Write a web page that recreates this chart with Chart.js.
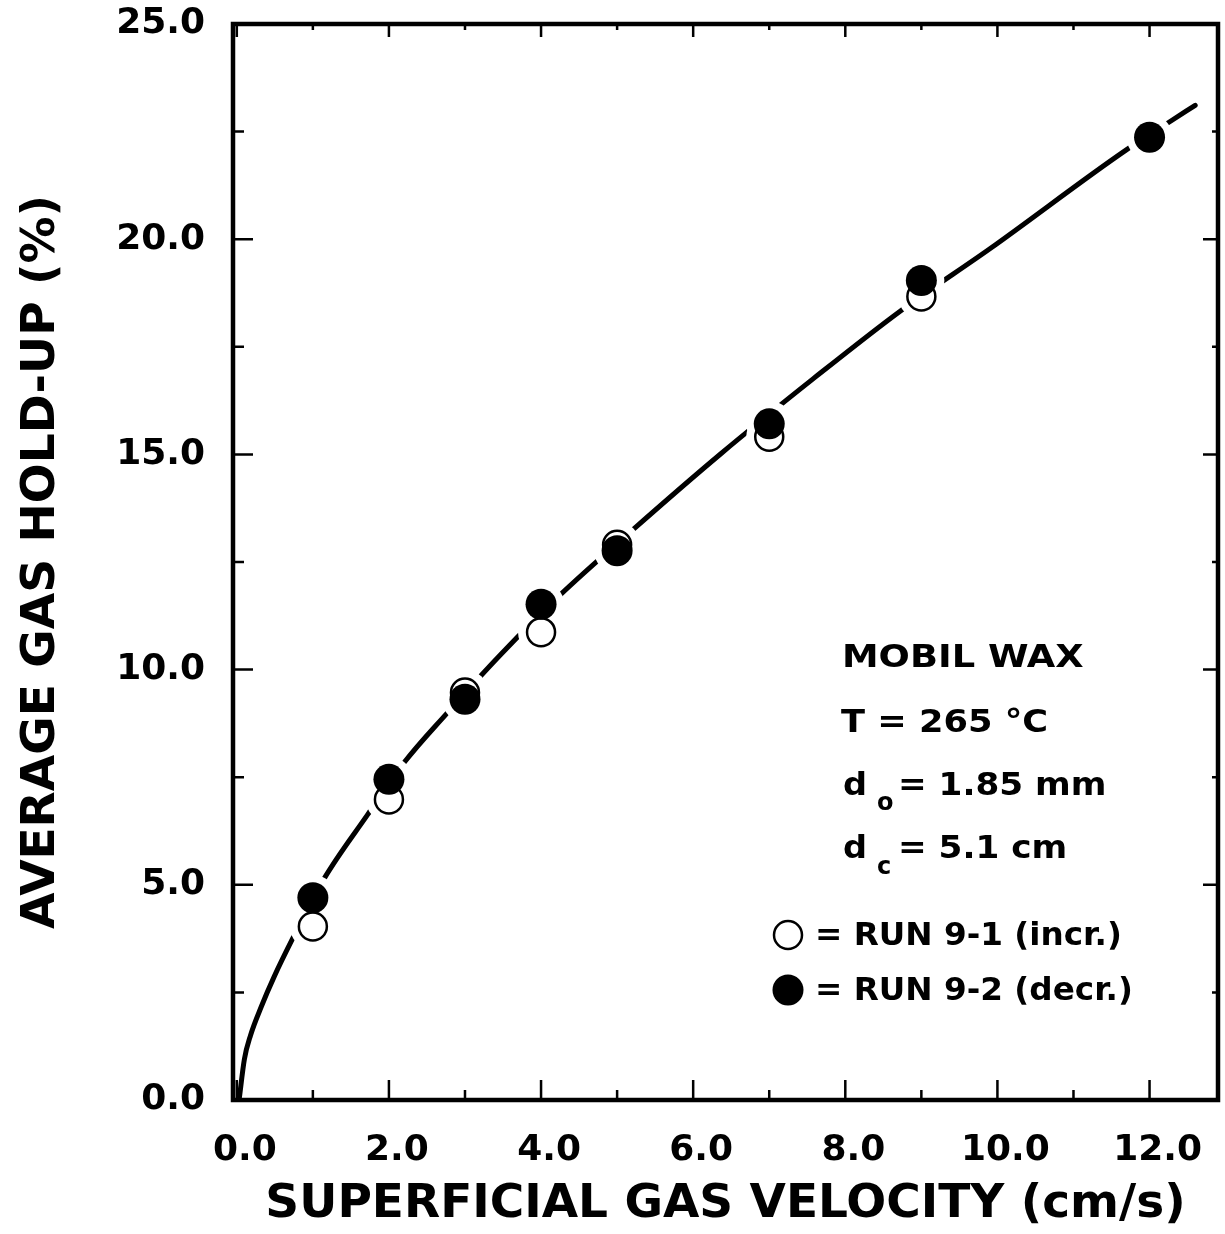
<!DOCTYPE html>
<html>
<head>
<meta charset="utf-8">
<title>Average gas hold-up vs superficial gas velocity</title>
<script src="https://cdn.jsdelivr.net/npm/chart.js@4.4.1/dist/chart.umd.min.js"></script>
<style>
  html, body { margin: 0; padding: 0; background: #fff; }
  #wrap { width: 1225px; height: 1234px; }
</style>
</head>
<body>
<div id="wrap"><canvas id="holdupChart" width="1225" height="1234"></canvas></div>
<script>
// superficial gas velocity (cm/s) of the measurements
const velocities = [1, 2, 3, 4, 5, 7, 9, 12];
// RUN 9-1 (increasing velocity), open circles
const run1Velocity = [1, 2, 3, 4, 5, 7, 9];
const run1Holdup = [4.03, 6.98, 9.47, 10.87, 12.9, 15.41, 18.67];
// RUN 9-2 (decreasing velocity), filled circles
const run2Holdup = [4.70, 7.45, 9.31, 11.52, 12.76, 15.71, 19.04, 22.37];

// fitted curve
const curveVelocity = [0.03, 0.1, 0.18, 0.32, 0.49, 0.74, 1.14, 1.72, 2.2, 2.75, 3.47, 4.23, 5.22,
  6.36, 7.58, 8.73, 9.91, 11.69, 12.24, 12.6];
const curveHoldup = [0, 0.95, 1.5, 2.16, 2.86, 3.77, 5.12, 6.63, 7.84, 8.96, 10.35, 11.7, 13.27,
  15.01, 16.76, 18.34, 19.79, 22.07, 22.7, 23.11];

// axis ticks
const xMajorTicks = [0, 2, 4, 6, 8, 10, 12];
const xMinorTicks = [1, 3, 5, 7, 9, 11];
const yMajorTicks = [0, 5, 10, 15, 20, 25];
const yMinorTicks = [2.5, 7.5, 12.5, 17.5, 22.5];

const FONT = '"DejaVu Sans", "Liberation Sans", sans-serif';

const toPoints = (xs, ys) => xs.map((x, i) => ({ x: x, y: ys[i] }));

// inward tick marks on all four sides plus the heavy frame
const framePlugin = {
  id: 'frame',
  afterDraw(chart) {
    const { ctx, chartArea: a, scales: { x, y } } = chart;
    ctx.save();
    ctx.strokeStyle = '#000';
    ctx.lineWidth = 2.5;
    ctx.beginPath();
    const xTick = (v, lenBottom, lenTop) => {
      const px = x.getPixelForValue(v);
      ctx.moveTo(px, a.bottom); ctx.lineTo(px, a.bottom - lenBottom);
      ctx.moveTo(px, a.top); ctx.lineTo(px, a.top + lenTop);
    };
    const yTick = (v, lenLeft, lenRight) => {
      const py = y.getPixelForValue(v);
      ctx.moveTo(a.left, py); ctx.lineTo(a.left + lenLeft, py);
      ctx.moveTo(a.right, py); ctx.lineTo(a.right - lenRight, py);
    };
    xMajorTicks.forEach(v => xTick(v, 20, 13));
    xMinorTicks.forEach(v => xTick(v, 10, 6));
    yMajorTicks.forEach(v => yTick(v, 20, 15));
    yMinorTicks.forEach(v => yTick(v, 11, 6));
    ctx.stroke();
    ctx.lineWidth = 4.5;
    ctx.strokeRect(a.left, a.top, a.right - a.left, a.bottom - a.top);
    ctx.restore();
  }
};

// conditions and symbol key written inside the plot
const notesPlugin = {
  id: 'notes',
  afterDraw(chart) {
    const ctx = chart.ctx;
    ctx.save();
    ctx.fillStyle = '#000';
    ctx.textBaseline = 'alphabetic';
    ctx.textAlign = 'left';
    // slightly widened bold text, like the original lettering
    const text = (s, x, y, size, stretch) => {
      ctx.save();
      ctx.font = 'bold ' + size + 'px ' + FONT;
      ctx.translate(x, y);
      ctx.scale(stretch || 1, 1);
      ctx.fillText(s, 0, 0);
      ctx.restore();
    };
    text('MOBIL WAX', 842, 667, 32, 1.15);
    text('T = 265 \u00B0C', 841, 732, 32, 1.1);
    text('d', 843, 795, 32, 1.05);
    text('o', 877, 810, 24, 1);
    text('= 1.85 mm', 898, 795, 32, 1.07);
    text('d', 843, 858, 32, 1.05);
    text('c', 877, 874, 24, 1);
    text('= 5.1 cm', 898, 858, 32, 1.07);
    text('= RUN 9-1 (incr.)', 815, 945, 32, 1.02);
    text('= RUN 9-2 (decr.)', 815, 1000, 32, 1.02);

    ctx.lineWidth = 2.5;
    ctx.strokeStyle = '#000';
    ctx.fillStyle = '#fff';
    ctx.beginPath();
    ctx.arc(788, 935, 14, 0, Math.PI * 2);
    ctx.fill();
    ctx.stroke();
    ctx.fillStyle = '#000';
    ctx.beginPath();
    ctx.arc(788, 990, 15.5, 0, Math.PI * 2);
    ctx.fill();
    ctx.restore();
  }
};

function initHoldupChart() {
  const canvas = document.getElementById('holdupChart');
  if (!canvas) return;

  const run1Points = toPoints(run1Velocity, run1Holdup);
  const run2Points = toPoints(velocities, run2Holdup);

  new Chart(canvas, {
    type: 'scatter',
    data: {
      datasets: [
        {
          label: 'curve',
          data: toPoints(curveVelocity, curveHoldup),
          showLine: true,
          borderColor: '#000',
          borderWidth: 5,
          borderCapStyle: 'round',
          cubicInterpolationMode: 'monotone',
          pointRadius: 0,
          order: 4
        },
        {
          // white halo so the curve breaks around every marker
          label: 'gap',
          data: run1Points.concat(run2Points),
          pointRadius: 23,
          pointBackgroundColor: '#fff',
          pointBorderWidth: 0,
          order: 3
        },
        {
          label: 'RUN 9-1 (incr.)',
          data: run1Points,
          pointRadius: 14,
          pointBackgroundColor: '#fff',
          pointBorderColor: '#000',
          pointBorderWidth: 2.5,
          order: 2
        },
        {
          label: 'RUN 9-2 (decr.)',
          data: run2Points,
          pointRadius: 15.5,
          pointBackgroundColor: '#000',
          pointBorderColor: '#000',
          pointBorderWidth: 0,
          order: 1
        }
      ]
    },
    options: {
      responsive: false,
      animation: false,
      layout: { autoPadding: false, padding: { top: 24, right: 7, left: 0, bottom: 0 } },
      plugins: {
        legend: { display: false },
        tooltip: { enabled: false }
      },
      scales: {
        x: {
          type: 'linear',
          min: -0.05,
          max: 12.9,
          afterBuildTicks: (scale) => {
            scale.ticks = xMajorTicks.map(v => ({ value: v }));
          },
          afterFit: (scale) => {
            scale.height = 134;
            scale.paddingLeft = 0;
            scale.paddingRight = 0;
          },
          grid: { display: false, drawTicks: false },
          border: { display: false },
          ticks: {
            color: '#000',
            padding: 29,
            labelOffset: 8,
            maxRotation: 0,
            font: { family: FONT, size: 36, weight: 'bold' },
            callback: (v) => Number(v).toFixed(1)
          },
          title: {
            display: true,
            text: 'SUPERFICIAL GAS VELOCITY (cm/s)',
            color: '#000',
            padding: { top: 0, bottom: 6 },
            font: { family: FONT, size: 47, weight: 'bold', lineHeight: 1 }
          }
        },
        y: {
          type: 'linear',
          min: 0,
          max: 25,
          afterBuildTicks: (scale) => {
            scale.ticks = yMajorTicks.map(v => ({ value: v }));
          },
          afterFit: (scale) => {
            scale.width = 233;
            scale.paddingTop = 0;
            scale.paddingBottom = 0;
          },
          grid: { display: false, drawTicks: false },
          border: { display: false },
          ticks: {
            color: '#000',
            padding: 28,
            font: { family: FONT, size: 36, weight: 'bold' },
            callback: (v) => Number(v).toFixed(1)
          },
          title: {
            display: true,
            text: 'AVERAGE GAS HOLD-UP (%)',
            color: '#000',
            padding: { top: 18, bottom: 0 },
            font: { family: FONT, size: 47, weight: 'bold', lineHeight: 1 }
          }
        }
      }
    },
    plugins: [framePlugin, notesPlugin]
  });
}

document.addEventListener('DOMContentLoaded', () => {
  initHoldupChart();
});
</script>
</body>
</html>
